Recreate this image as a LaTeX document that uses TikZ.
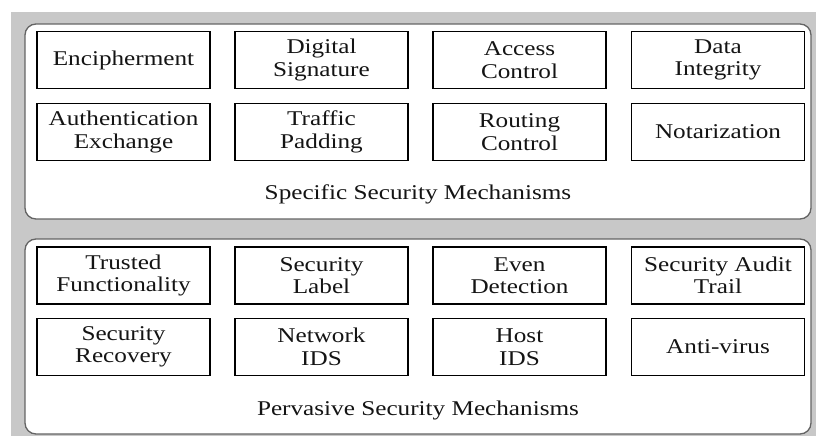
\documentclass[tikz,border=0pt]{standalone}
\usepackage{fontspec}
\setmainfont{Liberation Serif}[FakeStretch=1.2]
\definecolor{bggray}{RGB}{200,200,200}
\definecolor{panelline}{RGB}{100,100,100}
\definecolor{txt}{RGB}{20,20,20}
\begin{document}
\begin{tikzpicture}[x=1pt,y=-1pt,
  mech/.style={draw=black,line width=1.2pt,minimum width=173pt,minimum height=57pt,
    inner sep=0pt,align=center,text=txt,font=\fontsize{21}{22.5}\selectfont},
  panel/.style={draw=panelline,line width=1.3pt,fill=white,rounded corners=11pt},
  ptitle/.style={text=txt,font=\fontsize{21}{22.5}\selectfont,inner sep=0pt}]
\useasboundingbox (0,0) rectangle (816,436);
\fill[white] (0,0) rectangle (816,436);
\fill[bggray] (11,12) rectangle (816,436);
% panels
\draw[panel] (25,24) rectangle (811,219);
\draw[panel] (25,239) rectangle (811,434);
% upper row 1
\node[mech] (enc) at (123.5,60) {Encipherment};
\node[mech] (dsig) at (321.5,60) {Digital\\Signature};
\node[mech] (acc) at (519.5,60) {Access\\Control};
\node[mech] (dint) at (718,60) {Data\\Integrity};
% upper row 2
\node[mech] (auth) at (123.5,132) {Authentication\\Exchange};
\node[mech] (traf) at (321.5,132) {Traffic\\Padding};
\node[mech] (rout) at (519.5,132) {Routing\\Control};
\node[mech] (nota) at (718,132) {Notarization};
\node[ptitle] (spec) at (418,194) {Specific Security Mechanisms};
% lower row 1
\node[mech] (trus) at (123.5,275.5) {Trusted\\Functionality};
\node[mech] (slab) at (321.5,275.5) {Security\\Label};
\node[mech] (even) at (519.5,275.5) {Even\\Detection};
\node[mech] (saud) at (718,275.5) {Security Audit\\Trail};
% lower row 2
\node[mech] (srec) at (123.5,347) {Security\\Recovery};
\node[mech] (nids) at (321.5,347) {Network\\IDS};
\node[mech] (hids) at (519.5,347) {Host\\IDS};
\node[mech] (anti) at (718,347) {Anti-virus};
\node[ptitle] (perv) at (418,410) {Pervasive Security Mechanisms};
\end{tikzpicture}
\end{document}
